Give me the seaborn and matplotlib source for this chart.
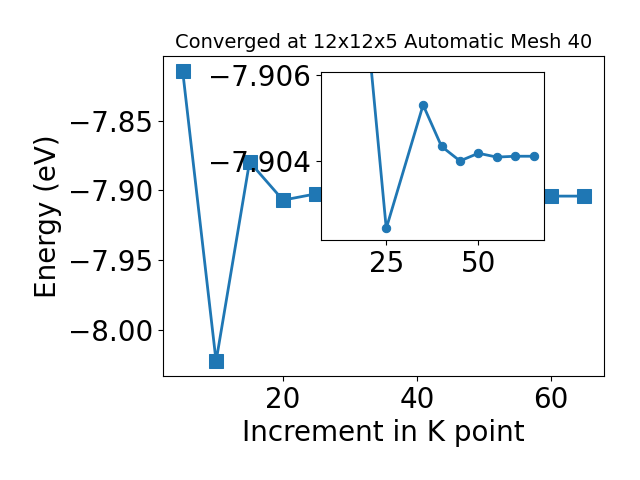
import seaborn as sns
import matplotlib
matplotlib.use("Agg")
import matplotlib.pyplot as plt
import pandas as pd

# k-point increments and total energies (eV)
kpoints = [5, 10, 15, 20, 25, 35, 40, 45, 50, 55, 60, 65]
energy = [-7.8140, -8.0228, -7.8795, -7.9070, -7.90242, -7.90531,
          -7.90434, -7.90400, -7.90418, -7.90409, -7.90411, -7.90411]

df = pd.DataFrame({"kpoint": kpoints, "energy": energy})
df_zoom = df[df["kpoint"] >= 20]

fig, ax = plt.subplots(figsize=(6.4, 4.8), dpi=100)
fig.subplots_adjust(left=0.254, right=0.944, bottom=0.217, top=0.883)

sns.lineplot(x="kpoint", y="energy", data=df, marker="s", markersize=10,
             linewidth=2, color="#1f77b4", markeredgecolor="#1f77b4", ax=ax)
ax.set_xlabel("Increment in K point", fontsize=20)
ax.set_ylabel("Energy (eV)", fontsize=20)
ax.set_title("Converged at 12x12x5 Automatic Mesh 40", fontsize=14)
ax.tick_params(labelsize=20)

# inset zoomed on the converged region
ax2 = fig.add_axes([0.501, 0.5, 0.349, 0.349])
sns.lineplot(x="kpoint", y="energy", data=df_zoom, marker="o", markersize=6,
             linewidth=2, color="#1f77b4", markeredgecolor="#1f77b4", ax=ax2)
ax2.set_xlim(7.2, 67.8)
ax2.set_ylim(-7.90215, -7.90607)
ax2.set_xticks([25, 50])
ax2.set_yticks([-7.906, -7.904])
ax2.set_xlabel("")
ax2.set_ylabel("")
ax2.tick_params(labelsize=20)

fig.savefig("out.png", dpi=100)
